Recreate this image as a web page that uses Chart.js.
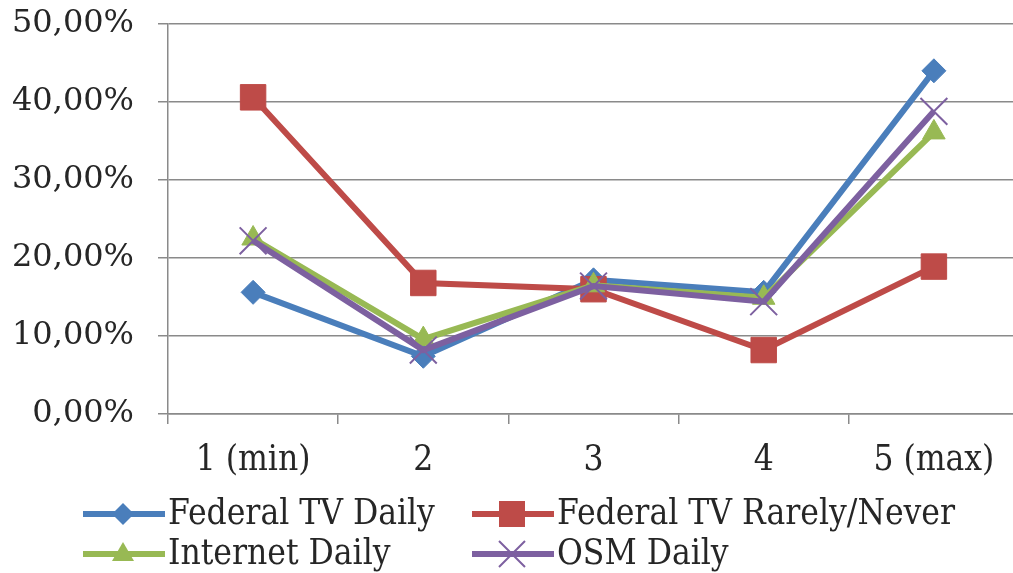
<!DOCTYPE html>
<html>
<head>
<meta charset="utf-8">
<script src="https://cdn.jsdelivr.net/npm/chart.js@4/dist/chart.umd.min.js"></script>
<style>
  html, body { margin: 0; padding: 0; background: #fff; overflow: hidden; }
  #wrap { width: 1013px; height: 573px; overflow: hidden; }
</style>
</head>
<body>
<div id="wrap"><canvas id="myChart" width="1040" height="573"></canvas></div>
<script>
var categories = ["1 (min)", "2", "3", "4", "5 (max)"];
var seriesNames = ["Federal TV Daily", "Federal TV Rarely/Never", "Internet Daily", "OSM Daily"];
var fedTvDaily = [15.6, 7.4, 17.2, 15.6, 44.0];
var fedTvRarely = [40.6, 16.8, 16.0, 8.2, 18.9];
var internetDaily = [22.5, 9.6, 16.5, 14.9, 36.1];
var osmDaily = [22.2, 8.2, 16.4, 14.4, 38.8];
var yTicks = [0, 10, 20, 30, 40, 50];

var colors = ["#4A7EBB", "#BE4B48", "#98B954", "#7D60A0"];
var styles = ["rectRot", "rect", "triangle", "crossRot"];
var radii = [12, 18, 13, 19];
var font = "'DejaVu Serif', serif";
var condFont = "'DejaVu Serif Condensed', 'DejaVu Serif', serif";

function makeSet(i, values) {
    return {
        label: seriesNames[i],
        data: values,
        borderColor: colors[i],
        backgroundColor: colors[i],
        borderWidth: 6,
        pointStyle: styles[i],
        pointRadius: radii[i],
        pointBackgroundColor: colors[i],
        pointBorderColor: colors[i],
        pointBorderWidth: i == 3 ? 2 : 1,
        tension: 0,
        order: 3 - i
    };
}

// legend drawn by hand, two fixed columns like the original
var legendPlugin = {
    id: 'twoColLegend',
    afterDraw: function(chart) {
        var ctx = chart.ctx;
        var pos = [[83, 514], [472, 514], [83, 554], [472, 554]];
        ctx.save();
        for (var i = 0; i < 4; i++) {
            var x = pos[i][0], y = pos[i][1];
            ctx.strokeStyle = colors[i];
            ctx.fillStyle = colors[i];
            ctx.lineWidth = 6;
            ctx.beginPath();
            ctx.moveTo(x, y);
            ctx.lineTo(x + 82, y);
            ctx.stroke();
            var cx = x + 40;
            ctx.beginPath();
            if (i == 0) {
                ctx.moveTo(cx, y - 11); ctx.lineTo(cx + 11, y); ctx.lineTo(cx, y + 11); ctx.lineTo(cx - 11, y);
                ctx.closePath(); ctx.fill();
            } else if (i == 1) {
                ctx.rect(cx - 13, y - 13, 26, 26); ctx.fill();
            } else if (i == 2) {
                ctx.moveTo(cx, y - 12); ctx.lineTo(cx + 11, y + 7); ctx.lineTo(cx - 11, y + 7);
                ctx.closePath(); ctx.fill();
            } else {
                ctx.lineWidth = 2;
                ctx.moveTo(cx - 13, y - 13); ctx.lineTo(cx + 13, y + 13);
                ctx.moveTo(cx + 13, y - 13); ctx.lineTo(cx - 13, y + 13);
                ctx.stroke();
            }
            ctx.fillStyle = "#262626";
            ctx.font = "35px " + condFont;
            ctx.textBaseline = "middle";
            ctx.textAlign = "left";
            ctx.fillText(seriesNames[i], x + 85, y + 1);
        }
        ctx.restore();
    }
};

var ctx1 = document.getElementById("myChart");
var myChart = new Chart(ctx1, {
    type: 'line',
    data: {
        labels: categories,
        datasets: [
            makeSet(0, fedTvDaily),
            makeSet(1, fedTvRarely),
            makeSet(2, internetDaily),
            makeSet(3, osmDaily)
        ]
    },
    options: {
        responsive: false,
        animation: false,
        events: [],
        layout: { padding: { top: 24, right: 2, left: 0, bottom: 89 } },
        plugins: {
            legend: { display: false },
            tooltip: { enabled: false }
        },
        scales: {
            x: {
                offset: true,
                afterFit: function(scale) { scale.height = 70; },
                grid: {
                    offset: true,
                    drawOnChartArea: false,
                    drawTicks: true,
                    tickLength: 10,
                    color: "#8a8a8a",
                    lineWidth: 1.5
                },
                border: { display: true, color: "#8a8a8a", width: 1.5 },
                ticks: {
                    font: { family: condFont, size: 35 },
                    color: "#262626",
                    padding: 16,
                    maxRotation: 0,
                    autoSkip: false
                }
            },
            y: {
                min: 0,
                max: 50,
                afterFit: function(scale) {
                    scale.width = 168;
                    scale.paddingTop = 0;
                    scale.paddingBottom = 0;
                },
                afterBuildTicks: function(scale) {
                    scale.ticks = yTicks.map(function(v) { return { value: v }; });
                },
                grid: {
                    color: "#8a8a8a",
                    lineWidth: 1.5,
                    tickLength: 10
                },
                border: { display: true, color: "#8a8a8a", width: 1.5 },
                ticks: {
                    font: { family: font, size: 32 },
                    color: "#262626",
                    padding: 24,
                    callback: function(v) { return v.toFixed(2).replace('.', ',') + '%'; }
                }
            }
        }
    },
    plugins: [legendPlugin]
});
</script>
</body>
</html>
